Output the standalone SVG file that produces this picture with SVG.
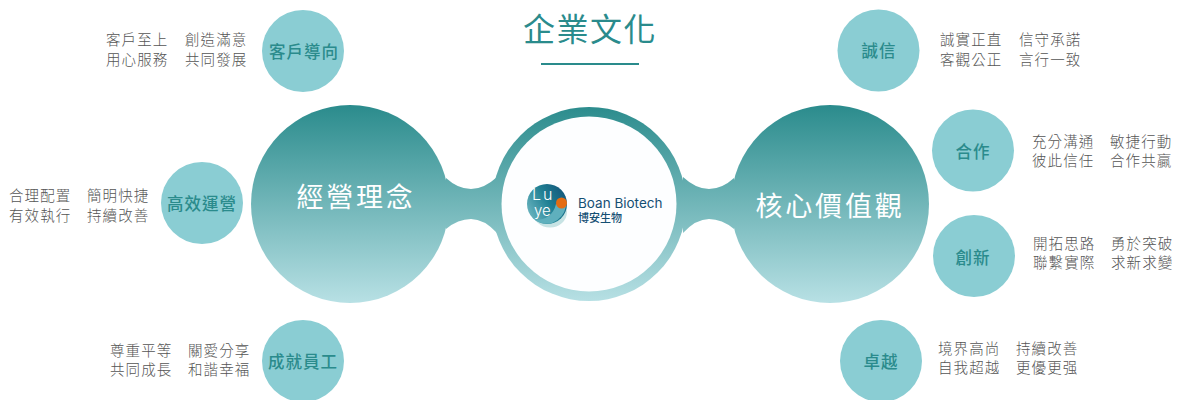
<svg xmlns="http://www.w3.org/2000/svg" width="1182" height="400" viewBox="0 0 1182 400">
<style>
text{font-family:"Noto Sans CJK TC","Noto Sans CJK SC",sans-serif}
.n{fill:#8acdd3}
.nt{fill:#2a8b8c;font-size:16.5px;font-weight:500;letter-spacing:1px;text-anchor:middle;dominant-baseline:central}
.d{fill:#555;font-size:14.5px;font-weight:300;letter-spacing:1.1px}
.b{fill:#fff;font-size:27px;font-weight:400;letter-spacing:2.8px;text-anchor:middle;dominant-baseline:central}
.g{fill:url(#g)}
.l{fill:#fff;font-weight:300;font-family:Inter,sans-serif}
</style>
<defs>
<linearGradient id="g" gradientUnits="userSpaceOnUse" x1="0" y1="104" x2="0" y2="302"><stop offset="0" stop-color="#2a8b8c"/><stop offset="1" stop-color="#b7e0e4"/></linearGradient>
<linearGradient id="lg" x1="0" y1="0.8" x2="1" y2="0.2"><stop offset="0" stop-color="#6fb8c2"/><stop offset=".55" stop-color="#1f7f93"/><stop offset="1" stop-color="#12557a"/></linearGradient>
</defs>
<text x="590" y="41" fill="#2a8b8c" font-size="32" font-weight="400" letter-spacing="1.5" text-anchor="middle">企業文化</text>
<rect x="541" y="63" width="98" height="2" fill="#2a8b8c"/>
<g id="connectors">
<path class="g" d="M446 178Q458 189 471 189Q484 189 497 177L497 233Q484 219 471 219Q458 219 446 229Z"/>
<path class="g" d="M734 178Q722 189 709 189Q696 189 683 177L683 233Q696 219 709 219Q722 219 734 229Z"/>
</g>
<g id="philosophy"><circle class="g" cx="350" cy="204" r="99"/><text class="b" x="356" y="195">經營理念</text></g>
<g id="values"><circle class="g" cx="830" cy="204" r="99"/><text class="b" x="830" y="204">核心價值觀</text></g>
<g id="logo">
<circle class="g" cx="589" cy="204" r="97"/>
<circle cx="589" cy="204" r="87.500" fill="#fdfeff"/>
<ellipse cx="550" cy="212" rx="17" ry="15.500" fill="#c7e3e4"/>
<circle cx="547" cy="204" r="20" fill="url(#lg)"/>
<path d="M535 220Q552 220 556 204L566 206Q564 218 552 223Q543 225 535 220Z" fill="#5fb0bd"/>
<circle cx="561.500" cy="203" r="5.500" fill="#e46c12"/>
<text class="l" x="532" y="200" font-size="16" letter-spacing="2">Lu</text>
<text class="l" x="534" y="216" font-size="15">ye</text>
<text x="578" y="208" fill="#154f73" font-size="13.500" font-weight="400" style="font-family:Inter,sans-serif">Boan Biotech</text>
<text x="578" y="222" fill="#154f73" font-size="11" font-weight="500">博安生物</text>
</g>
<g id="customer"><circle class="n" cx="303" cy="51" r="41"/><text class="nt" x="304" y="51">客戶導向</text>
<text class="d" x="106" y="45">客戶至上</text><text class="d" x="185" y="45">創造滿意</text><text class="d" x="106" y="64.500">用心服務</text><text class="d" x="185" y="64.500">共同發展</text></g>
<g id="efficient"><circle class="n" cx="202" cy="203" r="41"/><text class="nt" x="202" y="203">高效運營</text>
<text class="d" x="9" y="201">合理配置</text><text class="d" x="87" y="201">簡明快捷</text><text class="d" x="9" y="220.500">有效執行</text><text class="d" x="87" y="220.500">持續改善</text></g>
<g id="staff"><circle class="n" cx="303" cy="361" r="41"/><text class="nt" x="303" y="361">成就員工</text>
<text class="d" x="110" y="356">尊重平等</text><text class="d" x="188" y="356">關愛分享</text><text class="d" x="110" y="375">共同成長</text><text class="d" x="188" y="375">和諧幸福</text></g>
<g id="integrity"><circle class="n" cx="878.500" cy="50.500" r="41"/><text class="nt" x="879" y="50">誠信</text>
<text class="d" x="940" y="45">誠實正直</text><text class="d" x="1019" y="45">信守承諾</text><text class="d" x="940" y="64.500">客觀公正</text><text class="d" x="1019" y="64.500">言行一致</text></g>
<g id="cooperation"><circle class="n" cx="973" cy="150.500" r="41"/><text class="nt" x="973" y="151">合作</text>
<text class="d" x="1032" y="147">充分溝通</text><text class="d" x="1110" y="147">敏捷行動</text><text class="d" x="1032" y="166">彼此信任</text><text class="d" x="1110" y="166">合作共贏</text></g>
<g id="innovation"><circle class="n" cx="974" cy="256" r="41"/><text class="nt" x="973" y="257">創新</text>
<text class="d" x="1033" y="249">開拓思路</text><text class="d" x="1111" y="249">勇於突破</text><text class="d" x="1033" y="268">聯繫實際</text><text class="d" x="1111" y="268">求新求變</text></g>
<g id="excellence"><circle class="n" cx="881" cy="361" r="41"/><text class="nt" x="881" y="361">卓越</text>
<text class="d" x="938" y="354">境界高尚</text><text class="d" x="1016" y="354">持續改善</text><text class="d" x="938" y="373">自我超越</text><text class="d" x="1016" y="373">更優更强</text></g>
</svg>
